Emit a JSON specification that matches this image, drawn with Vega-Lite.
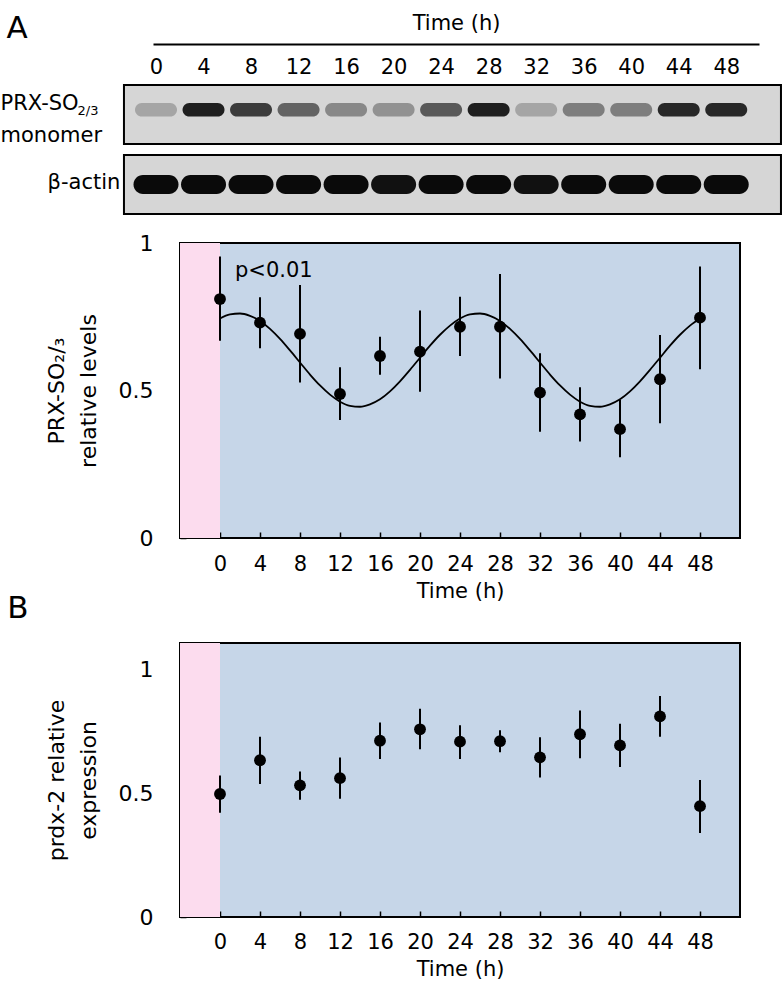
{
  "$schema": "https://vega.github.io/schema/vega-lite/v6.json",
  "background": "white",
  "padding": {"left": 0, "top": 12, "right": 0, "bottom": 0},
  "spacing": 16,
  "config": {
    "font": "DejaVu Sans",
    "view": {"stroke": null},
    "axis": {"labelColor": "black", "titleColor": "black", "titleFontWeight": "normal", "grid": false},
    "title": {"fontWeight": "normal", "color": "black"},
    "text": {"color": "black"}
  },
  "datasets": {
    "blotRows": [{"protein": "PRX"}, {"protein": "actin"}],
    "prx": [
      {"time": 0, "protein": "PRX", "intensity": 0.25},
      {"time": 4, "protein": "PRX", "intensity": 0.95},
      {"time": 8, "protein": "PRX", "intensity": 0.8},
      {"time": 12, "protein": "PRX", "intensity": 0.6},
      {"time": 16, "protein": "PRX", "intensity": 0.4},
      {"time": 20, "protein": "PRX", "intensity": 0.35},
      {"time": 24, "protein": "PRX", "intensity": 0.65},
      {"time": 28, "protein": "PRX", "intensity": 0.95},
      {"time": 32, "protein": "PRX", "intensity": 0.25},
      {"time": 36, "protein": "PRX", "intensity": 0.45},
      {"time": 40, "protein": "PRX", "intensity": 0.45},
      {"time": 44, "protein": "PRX", "intensity": 0.9},
      {"time": 48, "protein": "PRX", "intensity": 0.9}
    ],
    "actin": [
      {"time": 0, "protein": "actin", "intensity": 1},
      {"time": 4, "protein": "actin", "intensity": 1},
      {"time": 8, "protein": "actin", "intensity": 1},
      {"time": 12, "protein": "actin", "intensity": 1},
      {"time": 16, "protein": "actin", "intensity": 1},
      {"time": 20, "protein": "actin", "intensity": 0.97},
      {"time": 24, "protein": "actin", "intensity": 1},
      {"time": 28, "protein": "actin", "intensity": 1},
      {"time": 32, "protein": "actin", "intensity": 0.97},
      {"time": 36, "protein": "actin", "intensity": 1},
      {"time": 40, "protein": "actin", "intensity": 1},
      {"time": 44, "protein": "actin", "intensity": 1},
      {"time": 48, "protein": "actin", "intensity": 1}
    ],
    "a": [
      {"time": 0, "value": 0.810, "lo": 0.669, "hi": 0.954},
      {"time": 4, "value": 0.730, "lo": 0.643, "hi": 0.816},
      {"time": 8, "value": 0.692, "lo": 0.527, "hi": 0.858},
      {"time": 12, "value": 0.488, "lo": 0.400, "hi": 0.579},
      {"time": 16, "value": 0.617, "lo": 0.553, "hi": 0.682},
      {"time": 20, "value": 0.632, "lo": 0.496, "hi": 0.771},
      {"time": 24, "value": 0.716, "lo": 0.617, "hi": 0.818},
      {"time": 28, "value": 0.716, "lo": 0.541, "hi": 0.895},
      {"time": 32, "value": 0.493, "lo": 0.360, "hi": 0.626},
      {"time": 36, "value": 0.419, "lo": 0.327, "hi": 0.511},
      {"time": 40, "value": 0.369, "lo": 0.274, "hi": 0.468},
      {"time": 44, "value": 0.538, "lo": 0.389, "hi": 0.688},
      {"time": 48, "value": 0.747, "lo": 0.572, "hi": 0.920}
    ],
    "fitA": [
      {"time": 0, "fit": 0.744}, {"time": 1, "fit": 0.758}, {"time": 2, "fit": 0.761}, {"time": 3, "fit": 0.753},
      {"time": 4, "fit": 0.736}, {"time": 5, "fit": 0.709}, {"time": 6, "fit": 0.675}, {"time": 7, "fit": 0.636},
      {"time": 8, "fit": 0.595}, {"time": 9, "fit": 0.554}, {"time": 10, "fit": 0.517}, {"time": 11, "fit": 0.486},
      {"time": 12, "fit": 0.462}, {"time": 13, "fit": 0.448}, {"time": 14, "fit": 0.445}, {"time": 15, "fit": 0.453},
      {"time": 16, "fit": 0.470}, {"time": 17, "fit": 0.497}, {"time": 18, "fit": 0.531}, {"time": 19, "fit": 0.570},
      {"time": 20, "fit": 0.611}, {"time": 21, "fit": 0.652}, {"time": 22, "fit": 0.689}, {"time": 23, "fit": 0.720},
      {"time": 24, "fit": 0.744}, {"time": 25, "fit": 0.758}, {"time": 26, "fit": 0.761}, {"time": 27, "fit": 0.753},
      {"time": 28, "fit": 0.736}, {"time": 29, "fit": 0.709}, {"time": 30, "fit": 0.675}, {"time": 31, "fit": 0.636},
      {"time": 32, "fit": 0.595}, {"time": 33, "fit": 0.554}, {"time": 34, "fit": 0.517}, {"time": 35, "fit": 0.486},
      {"time": 36, "fit": 0.462}, {"time": 37, "fit": 0.448}, {"time": 38, "fit": 0.445}, {"time": 39, "fit": 0.453},
      {"time": 40, "fit": 0.470}, {"time": 41, "fit": 0.497}, {"time": 42, "fit": 0.531}, {"time": 43, "fit": 0.570},
      {"time": 44, "fit": 0.611}, {"time": 45, "fit": 0.652}, {"time": 46, "fit": 0.689}, {"time": 47, "fit": 0.720},
      {"time": 48, "fit": 0.744}
    ],
    "b": [
      {"time": 0, "value": 0.496, "lo": 0.420, "hi": 0.571},
      {"time": 4, "value": 0.632, "lo": 0.536, "hi": 0.727},
      {"time": 8, "value": 0.531, "lo": 0.473, "hi": 0.587},
      {"time": 12, "value": 0.560, "lo": 0.477, "hi": 0.643},
      {"time": 16, "value": 0.711, "lo": 0.637, "hi": 0.784},
      {"time": 20, "value": 0.757, "lo": 0.677, "hi": 0.840},
      {"time": 24, "value": 0.707, "lo": 0.637, "hi": 0.773},
      {"time": 28, "value": 0.709, "lo": 0.664, "hi": 0.753},
      {"time": 32, "value": 0.644, "lo": 0.563, "hi": 0.725},
      {"time": 36, "value": 0.737, "lo": 0.640, "hi": 0.833},
      {"time": 40, "value": 0.692, "lo": 0.605, "hi": 0.779},
      {"time": 44, "value": 0.809, "lo": 0.727, "hi": 0.891},
      {"time": 48, "value": 0.447, "lo": 0.339, "hi": 0.552}
    ]
  },
  "vconcat": [
    {
      "width": 560,
      "height": 129,
      "title": {"text": "A", "anchor": "start", "frame": "bounds", "fontSize": 31, "offset": -32.5, "dx": 6},
      "resolve": {"scale": {"x": "independent"}, "axis": {"x": "independent"}},
      "layer": [
        {
          "data": {"name": "blotRows"},
          "mark": {"type": "rect", "fill": "#d6d6d6", "stroke": "black", "strokeWidth": 2},
          "encoding": {
            "x": {"datum": -2.3, "type": "quantitative",
                  "scale": {"domain": [0, 48], "range": [-27, 579]},
                  "axis": {"orient": "top", "offset": 41, "labels": false, "ticks": false, "domain": true,
                           "domainColor": "black", "domainWidth": 2, "title": "Time (h)", "titleFontSize": 21, "titlePadding": 11}},
            "x2": {"datum": 49.74},
            "y": {"field": "protein", "type": "nominal",
                  "scale": {"domain": ["PRX", "actin"], "paddingInner": 0.157, "paddingOuter": 0}, "axis": null}
          }
        },
        {
          "layer": [
            {
              "data": {"name": "prx"},
              "mark": {"type": "point", "filled": true, "color": "#151515", "size": 1764, "strokeWidth": 0,
                       "shape": "M-0.675,-0.55 L0.675,-0.55 A0.325,0.325 0 0 1 0.675,0.1 L-0.675,0.1 A0.325,0.325 0 0 1 -0.675,-0.55 Z"},
              "encoding": {
                "x": {"field": "time", "type": "quantitative",
                      "scale": {"domain": [0, 48], "range": [-24, 570]},
                      "axis": {"orient": "top", "values": [0, 4, 8, 12, 16, 20, 24, 28, 32, 36, 40, 44, 48], "format": "d",
                               "ticks": false, "domain": false, "labelFontSize": 21, "labelPadding": 8,
                               "labelFlush": false, "labelOverlap": false, "title": null}},
                "y": {"field": "protein", "type": "nominal"},
                "opacity": {"field": "intensity", "type": "quantitative", "scale": {"domain": [0, 1], "range": [0, 1]}, "legend": null}
              }
            },
            {
              "data": {"name": "actin"},
              "mark": {"type": "point", "filled": true, "color": "#0a0a0a", "size": 2025, "strokeWidth": 0,
                       "shape": "M-0.58,-0.42 L0.58,-0.42 A0.42,0.42 0 0 1 0.58,0.42 L-0.58,0.42 A0.42,0.42 0 0 1 -0.58,-0.42 Z"},
              "encoding": {
                "x": {"field": "time", "type": "quantitative"},
                "y": {"field": "protein", "type": "nominal"},
                "opacity": {"field": "intensity", "type": "quantitative", "legend": null}
              }
            },
            {
              "data": {"values": [{}]},
              "mark": {"type": "text", "text": "PRX-SO", "align": "left", "baseline": "middle", "fontSize": 21, "dy": -10.5},
              "encoding": {"x": {"datum": -13.085}, "y": {"datum": "PRX"}}
            },
            {
              "data": {"values": [{}]},
              "mark": {"type": "text", "text": "2/3", "align": "left", "baseline": "middle", "fontSize": 13, "dy": -3.5},
              "encoding": {"x": {"datum": -6.6}, "y": {"datum": "PRX"}}
            },
            {
              "data": {"values": [{}]},
              "mark": {"type": "text", "text": "monomer", "align": "left", "baseline": "middle", "fontSize": 21, "dy": 21.5},
              "encoding": {"x": {"datum": -13.085}, "y": {"datum": "PRX"}}
            },
            {
              "data": {"values": [{}]},
              "mark": {"type": "text", "text": "β-actin", "align": "right", "baseline": "middle", "fontSize": 21, "dy": -1.5},
              "encoding": {"x": {"datum": -3.0}, "y": {"datum": "actin"}}
            }
          ]
        }
      ]
    },
    {
      "width": 560,
      "height": 295,
      "view": {"fill": "#c6d6e8", "stroke": "black", "strokeWidth": 2},
      "layer": [
        {
          "data": {"values": [{}]},
          "mark": {"type": "rect", "fill": "#fcdcee"},
          "encoding": {
            "x": {"datum": -4, "type": "quantitative",
                  "scale": {"domain": [-4, 52], "nice": false, "zero": false},
                  "axis": {"values": [0, 4, 8, 12, 16, 20, 24, 28, 32, 36, 40, 44, 48], "format": "d",
                           "tickSize": -6, "tickColor": "black", "tickWidth": 1.5, "domain": false,
                           "labelFontSize": 21, "labelPadding": 21.5, "labelFlush": false, "labelOverlap": false,
                           "title": "Time (h)", "titleFontSize": 21, "titlePadding": 6}},
            "x2": {"datum": 0},
            "y": {"datum": 0, "type": "quantitative",
                  "scale": {"domain": [0, 1], "nice": false},
                  "axis": {"values": [0, 0.25, 0.5, 0.75, 1],
                           "labelExpr": "datum.value == 0 ? '0' : datum.value == 0.5 ? '0.5' : datum.value == 1 ? '1' : ''",
                           "tickSize": -6, "tickColor": "black", "tickWidth": 1.5, "domain": false,
                           "labelFontSize": 22, "labelPadding": 33, "labelOverlap": false, "labelFlush": false,
                           "title": ["PRX-SO₂/₃", "relative levels"], "titleFontSize": 22, "titleLineHeight": 32, "titlePadding": 18}},
            "y2": {"datum": 1}
          }
        },
        {
          "data": {"name": "a"},
          "mark": {"type": "rule", "color": "black", "strokeWidth": 2},
          "encoding": {
            "x": {"field": "time", "type": "quantitative"},
            "y": {"field": "lo", "type": "quantitative"},
            "y2": {"field": "hi"}
          }
        },
        {
          "data": {"name": "fitA"},
          "mark": {"type": "line", "color": "black", "strokeWidth": 1.8, "interpolate": "monotone"},
          "encoding": {
            "x": {"field": "time", "type": "quantitative"},
            "y": {"field": "fit", "type": "quantitative"}
          }
        },
        {
          "data": {"name": "a"},
          "mark": {"type": "circle", "color": "black", "opacity": 1, "size": 140},
          "encoding": {
            "x": {"field": "time", "type": "quantitative"},
            "y": {"field": "value", "type": "quantitative"}
          }
        },
        {
          "data": {"values": [{}]},
          "mark": {"type": "text", "text": "p<0.01", "align": "left", "baseline": "middle", "fontSize": 21},
          "encoding": {"x": {"datum": 1.5}, "y": {"datum": 0.905}}
        },
        {
          "data": {"values": [{}]},
          "mark": {"type": "text", "text": "B", "align": "center", "baseline": "middle", "fontSize": 31},
          "encoding": {"x": {"datum": -20.2}, "y": {"datum": -0.242}}
        }
      ]
    },
    {
      "width": 560,
      "height": 274,
      "view": {"fill": "#c6d6e8", "stroke": "black", "strokeWidth": 2},
      "layer": [
        {
          "data": {"values": [{}]},
          "mark": {"type": "rect", "fill": "#fcdcee"},
          "encoding": {
            "x": {"datum": -4, "type": "quantitative",
                  "scale": {"domain": [-4, 52], "nice": false, "zero": false},
                  "axis": {"values": [0, 4, 8, 12, 16, 20, 24, 28, 32, 36, 40, 44, 48], "format": "d",
                           "tickSize": -6, "tickColor": "black", "tickWidth": 1.5, "domain": false,
                           "labelFontSize": 21, "labelPadding": 20.5, "labelFlush": false, "labelOverlap": false,
                           "title": "Time (h)", "titleFontSize": 21, "titlePadding": 6}},
            "x2": {"datum": 0},
            "y": {"datum": 0, "type": "quantitative",
                  "scale": {"domain": [0, 1.105], "nice": false},
                  "axis": {"values": [0, 0.25, 0.5, 0.75, 1],
                           "labelExpr": "datum.value == 0 ? '0' : datum.value == 0.5 ? '0.5' : datum.value == 1 ? '1' : ''",
                           "tickSize": -6, "tickColor": "black", "tickWidth": 1.5, "domain": false,
                           "labelFontSize": 22, "labelPadding": 33, "labelOverlap": false, "labelFlush": false,
                           "title": ["prdx-2 relative", "expression"], "titleFontSize": 22, "titleLineHeight": 32, "titlePadding": 18}},
            "y2": {"datum": 1.105}
          }
        },
        {
          "data": {"name": "b"},
          "mark": {"type": "rule", "color": "black", "strokeWidth": 2},
          "encoding": {
            "x": {"field": "time", "type": "quantitative"},
            "y": {"field": "lo", "type": "quantitative"},
            "y2": {"field": "hi"}
          }
        },
        {
          "data": {"name": "b"},
          "mark": {"type": "circle", "color": "black", "opacity": 1, "size": 140},
          "encoding": {
            "x": {"field": "time", "type": "quantitative"},
            "y": {"field": "value", "type": "quantitative"}
          }
        }
      ]
    }
  ]
}
